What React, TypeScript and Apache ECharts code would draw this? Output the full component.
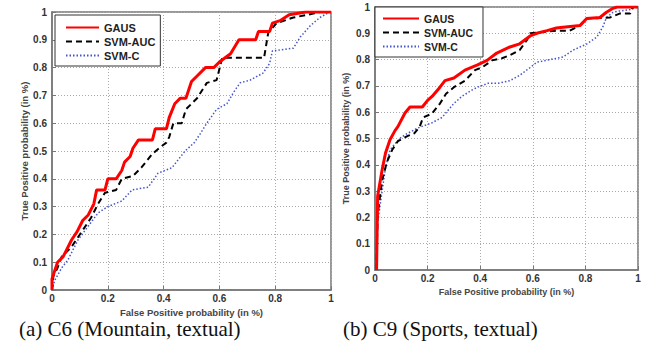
import React, { useEffect, useRef } from "react";
import * as echarts from "echarts";

// ROC curves, panel (a) C6 (Mountain, textual)
const leftGaus: number[][] = [
  [0, 0], [0, 0.04], [0.01, 0.07], [0.02, 0.1], [0.04, 0.12], [0.05, 0.14], [0.07, 0.18], [0.09, 0.21],
  [0.11, 0.25], [0.13, 0.27], [0.15, 0.31], [0.16, 0.36], [0.19, 0.36], [0.2, 0.4], [0.23, 0.4],
  [0.25, 0.43], [0.26, 0.46], [0.28, 0.48], [0.29, 0.51], [0.31, 0.54], [0.36, 0.54], [0.37, 0.58],
  [0.41, 0.58], [0.42, 0.62], [0.44, 0.67], [0.46, 0.69], [0.48, 0.69], [0.5, 0.75], [0.52, 0.77],
  [0.55, 0.8], [0.58, 0.8], [0.6, 0.82], [0.64, 0.85], [0.67, 0.9], [0.73, 0.9], [0.74, 0.93],
  [0.78, 0.93], [0.79, 0.96], [0.82, 0.97], [0.85, 0.99], [0.91, 1], [1, 1],
];
const leftSvmAuc: number[][] = [
  [0, 0], [0.005, 0.05], [0.02, 0.08], [0.035, 0.12], [0.07, 0.155], [0.11, 0.215], [0.14, 0.26],
  [0.165, 0.31], [0.19, 0.35], [0.23, 0.36], [0.25, 0.4], [0.29, 0.41], [0.32, 0.44], [0.36, 0.49],
  [0.39, 0.515], [0.41, 0.53], [0.42, 0.55], [0.435, 0.6], [0.465, 0.6], [0.48, 0.65], [0.52, 0.69],
  [0.555, 0.745], [0.59, 0.755], [0.61, 0.835], [0.76, 0.835], [0.775, 0.925], [0.805, 0.96],
  [0.865, 0.98], [0.94, 0.995], [0.96, 1], [1, 1],
];
const leftSvmC: number[][] = [
  [0, 0], [0.01, 0.035], [0.035, 0.08], [0.057, 0.108], [0.093, 0.18], [0.13, 0.23], [0.165, 0.277],
  [0.2, 0.3], [0.25, 0.32], [0.287, 0.36], [0.345, 0.37], [0.38, 0.42], [0.43, 0.44], [0.477, 0.5],
  [0.51, 0.53], [0.53, 0.56], [0.555, 0.6], [0.59, 0.65], [0.627, 0.67], [0.65, 0.71], [0.674, 0.745],
  [0.71, 0.755], [0.756, 0.78], [0.78, 0.815], [0.79, 0.86], [0.865, 0.87], [0.89, 0.91],
  [0.925, 0.95], [0.96, 0.98], [0.995, 1], [1, 1],
];

// ROC curves, panel (b) C9 (Sports, textual)
const rightGaus: number[][] = [
  [0.006, 0], [0.008, 0.15], [0.01, 0.28], [0.027, 0.38], [0.04, 0.445], [0.057, 0.495], [0.076, 0.53],
  [0.087, 0.545], [0.114, 0.597], [0.133, 0.62], [0.18, 0.62], [0.2, 0.645], [0.217, 0.66],
  [0.247, 0.695], [0.266, 0.72], [0.3, 0.73], [0.342, 0.76], [0.39, 0.78], [0.426, 0.797],
  [0.463, 0.825], [0.513, 0.848], [0.55, 0.86], [0.59, 0.89], [0.615, 0.9], [0.654, 0.91],
  [0.69, 0.92], [0.715, 0.923], [0.78, 0.93], [0.805, 0.956], [0.855, 0.96], [0.88, 0.98],
  [0.905, 0.995], [0.92, 1], [1, 1],
];
const rightSvmAuc: number[][] = [
  [0.006, 0], [0.006, 0.027], [0.01, 0.21], [0.027, 0.34], [0.045, 0.41], [0.065, 0.456], [0.087, 0.49],
  [0.125, 0.51], [0.15, 0.52], [0.17, 0.545], [0.183, 0.58], [0.217, 0.595], [0.247, 0.633],
  [0.27, 0.67], [0.3, 0.695], [0.342, 0.72], [0.38, 0.76], [0.407, 0.77], [0.445, 0.797],
  [0.483, 0.805], [0.513, 0.817], [0.55, 0.836], [0.578, 0.875], [0.59, 0.9], [0.64, 0.905],
  [0.69, 0.91], [0.74, 0.91], [0.78, 0.93], [0.805, 0.956], [0.893, 0.96], [0.93, 0.975],
  [0.97, 0.975], [0.98, 1], [1, 1],
];
const rightSvmC: number[][] = [
  [0.006, 0], [0.006, 0.03], [0.01, 0.18], [0.027, 0.3], [0.04, 0.39], [0.057, 0.456], [0.076, 0.48],
  [0.1, 0.505], [0.125, 0.52], [0.163, 0.54], [0.217, 0.56], [0.255, 0.58], [0.28, 0.61], [0.3, 0.633],
  [0.33, 0.66], [0.37, 0.685], [0.39, 0.695], [0.43, 0.71], [0.468, 0.71], [0.513, 0.72], [0.55, 0.74],
  [0.59, 0.77], [0.615, 0.79], [0.665, 0.8], [0.715, 0.81], [0.753, 0.836], [0.806, 0.86],
  [0.844, 0.886], [0.867, 0.926], [0.88, 0.96], [0.905, 0.98], [0.93, 0.985], [0.97, 0.99], [1, 1],
];

const seriesNames = ["GAUS", "SVM-AUC", "SVM-C"];
const xTitle = "False Positive probability (in %)";
const yTitle = "True Positive probability (in %)";
const captions = ["(a) C6 (Mountain, textual)", "(b) C9 (Sports, textual)"];

const SANS = "Liberation Sans, Arial, sans-serif";
const SERIF = "'Liberation Serif', 'Times New Roman', serif";

const styles = [
  { color: "#ff0000", width: 3, type: "solid" as any },
  { color: "#000000", width: 2, type: [6, 4] as any },
  { color: "#4455cc", width: 1.5, type: [1.5, 2] as any },
];

function makeX(gridIndex: number, nameSize: number) {
  return {
    type: "value",
    gridIndex,
    min: 0,
    max: 1,
    interval: 0.2,
    name: xTitle,
    nameLocation: "middle",
    nameGap: 15,
    nameTextStyle: { color: "#444", fontSize: nameSize, fontWeight: "bold", fontFamily: SANS },
    axisLine: { show: true, lineStyle: { color: "#777", width: 1.5 } },
    axisTick: { show: true, inside: true, length: 4, lineStyle: { color: "#777" } },
    axisLabel: { color: "#333", fontSize: 10, fontWeight: "bold", fontFamily: SANS, margin: 3 },
    splitLine: { show: true, lineStyle: { color: "#aaa", type: [1, 2], width: 1 } },
  };
}
function makeY(gridIndex: number, nameSize: number, nameGap: number) {
  return {
    type: "value",
    gridIndex,
    min: 0,
    max: 1,
    interval: 0.1,
    name: yTitle,
    nameLocation: "middle",
    nameGap,
    nameTextStyle: { color: "#444", fontSize: nameSize, fontWeight: "bold", fontFamily: SANS },
    axisLine: { show: true, lineStyle: { color: "#777", width: 1.5 } },
    axisTick: { show: true, inside: true, length: 4, lineStyle: { color: "#777" } },
    axisLabel: { color: "#333", fontSize: 10, fontWeight: "bold", fontFamily: SANS, margin: 5 },
    splitLine: { show: true, lineStyle: { color: "#aaa", type: [1, 2], width: 1 } },
  };
}

function makeSeries(gridIndex: number, sets: number[][][]) {
  return sets.map((d, i) => ({
    name: seriesNames[i],
    type: "line",
    xAxisIndex: gridIndex,
    yAxisIndex: gridIndex,
    data: d,
    symbol: "none",
    z: 10 - i,
    lineStyle: styles[i],
    itemStyle: { color: styles[i].color },
  }));
}

function makeLegend(left: number, top: number, itemWidth: number, pad: number[], fontSize: number) {
  return {
    orient: "vertical",
    left,
    top,
    itemWidth,
    itemHeight: 12,
    itemGap: 3,
    padding: pad,
    borderColor: "#333",
    borderWidth: 1,
    backgroundColor: "#fff",
    selectedMode: false,
    itemStyle: { opacity: 0 },
    textStyle: { fontSize, fontWeight: "bold", fontFamily: SANS, color: "#222" },
    data: seriesNames,
  };
}

export default function App() {
  const ref = useRef<HTMLDivElement>(null);
  useEffect(() => {
    if (!ref.current) return;
    const chart = echarts.init(ref.current, null, { renderer: "svg" });
    chart.setOption({
      animation: false,
      backgroundColor: "#fff",
      grid: [
        { left: 52, top: 12, width: 279, height: 278, show: true, borderColor: "#777", borderWidth: 1.5, backgroundColor: "transparent" },
        { left: 375, top: 7, width: 263, height: 263, show: true, borderColor: "#777", borderWidth: 1.5, backgroundColor: "transparent" },
      ],
      xAxis: [makeX(0, 9.5), makeX(1, 9)],
      yAxis: [makeY(0, 9.5, 22), makeY(1, 9, 25)],
      legend: [
        makeLegend(55, 15, 33, [7, 5, 5, 10], 11),
        makeLegend(375, 7, 36, [6, 10, 5, 7], 10.5),
      ],
      series: [
        ...makeSeries(0, [leftGaus, leftSvmAuc, leftSvmC]),
        ...makeSeries(1, [rightGaus, rightSvmAuc, rightSvmC]),
      ],
      graphic: [
        { type: "text", x: 19, y: 329, style: { text: captions[0], font: `21px ${SERIF}`, fill: "#111", verticalAlign: "middle" } },
        { type: "text", x: 343, y: 329, style: { text: captions[1], font: `21px ${SERIF}`, fill: "#111", verticalAlign: "middle" } },
      ],
    });
    return () => chart.dispose();
  }, []);
  return <div ref={ref} style={{ position: "fixed", left: 0, top: 0, width: 660, height: 345 }} />;
}
